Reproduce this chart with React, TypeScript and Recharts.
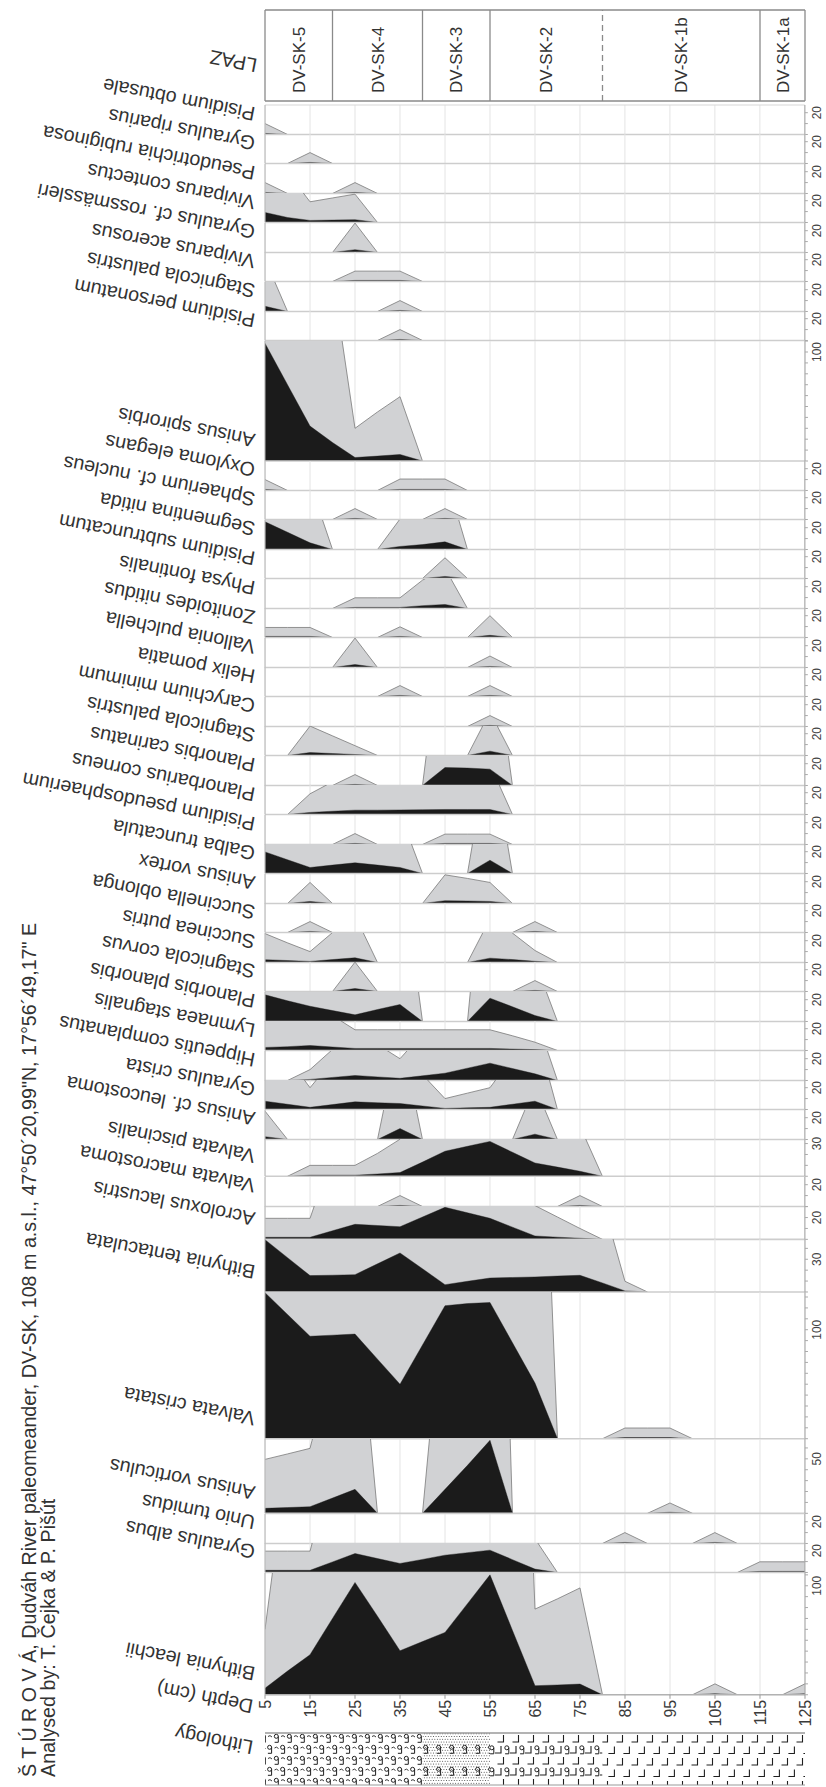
import React from 'react';
import { ComposedChart, Area, XAxis, YAxis, ReferenceLine, ReferenceArea, CartesianGrid } from 'recharts';

type Sample = [number, number, number]; // depth (cm), actual value, exaggerated value (x10)

const DEPTHS = [5, 10, 15, 20, 25, 30, 35, 40, 45, 50, 55, 60, 65, 70, 75, 80, 85, 90, 95, 100, 105, 110, 115, 120, 125];
const DEPTH_TICKS = [5, 15, 25, 35, 45, 55, 65, 75, 85, 95, 105, 115, 125];

const SPECIES = [
  'Pisidium obtusale', 'Gyraulus riparius', 'Pseudotrichia rubiginosa', 'Viviparus contectus',
  'Gyraulus cf. rossmässleri', 'Viviparus acerosus', 'Stagnicola palustris', 'Pisidium personatum',
  'Anisus spirorbis', 'Oxyloma elegans', 'Sphaerium cf. nucleus', 'Segmentina nitida',
  'Pisidium subtruncatum', 'Physa fontinalis', 'Zonitoides nitidus', 'Vallonia pulchella',
  'Helix pomatia', 'Carychium minimum', 'Stagnicola palustris', 'Planorbis carinatus',
  'Planorbarius corneus', 'Pisidium pseudosphaerium', 'Galba truncatula', 'Anisus vortex',
  'Succinella oblonga', 'Succinea putris', 'Stagnicola corvus', 'Planorbis planorbis',
  'Lymnaea stagnalis', 'Hippeutis complanatus', 'Gyraulus crista', 'Anisus cf. leucostoma',
  'Valvata piscinalis', 'Valvata macrostoma', 'Acroloxus lacustris', 'Bithynia tentaculata',
  'Valvata cristata', 'Anisus vorticulus', 'Unio tumidus', 'Gyraulus albus', 'Bithynia leachii',
];

const SCALE_LABEL = [
  20, 20, 20, 20, 20, 20, 20, 20, 100, 20, 20, 20, 20, 20, 20, 20, 20, 20, 20, 20, 20,
  20, 20, 20, 20, 20, 20, 20, 20, 20, 20, 20, 30, 20, 20, 30, 100, 50, 20, 20, 100,
];

const SCALE_MAX = [
  27.06, 27.06, 27.06, 27.06, 27.06, 27.06, 27.06, 27.06, 110.1, 27.06, 27.06, 27.06, 27.06,
  27.06, 27.06, 27.06, 27.06, 27.06, 27.06, 27.06, 27.06, 27.06, 27.06, 27.06, 27.06, 27.06,
  27.06, 27.06, 27.06, 27.06, 27.06, 27.06, 34.2, 27.06, 30.6, 48.6, 134.6, 68.2, 27.06, 27.06, 111.7,
];

const pisidiumObtusale: Sample[] = [[5, 1, 10]];
const gyraulusRiparius: Sample[] = [[15, 1, 10]];
const pseudotrichiaRubiginosa: Sample[] = [[5, 1, 10], [25, 1, 10]];
const viviparusContectus: Sample[] = [[5, 9.2, 92], [10, 4.6, 46], [15, 1.9, 19], [20, 2.2, 22.5], [25, 2.6, 26]];
const gyraulusRossmaessleri: Sample[] = [[25, 2.6, 27]];
const viviparusAcerosus: Sample[] = [[25, 1, 9.5], [30, 1, 9.5], [35, 1, 9.5]];
const stagnicolaPalustrisA: Sample[] = [[5, 4.8, 48], [35, 1, 10]];
const pisidiumPersonatum: Sample[] = [[35, 1, 10]];
const anisusSpirorbis: Sample[] = [[5, 108, 1080], [10, 70, 700], [15, 32, 320], [20, 17, 170], [25, 3.2, 30], [30, 4.5, 45], [35, 6, 59]];
const oxylomaElegans: Sample[] = [[5, 1, 10], [35, 1, 10.5], [40, 1, 10.5], [45, 1, 10.5]];
const sphaeriumNucleus: Sample[] = [[25, 1, 10], [45, 1, 10]];
const segmentinaNitida: Sample[] = [[5, 25.4, 254], [10, 15.8, 158], [15, 6.1, 61], [35, 2.8, 28], [40, 4.5, 45], [45, 7, 70]];
const pisidiumSubtruncatum: Sample[] = [[45, 1.9, 19]];
const physaFontinalis: Sample[] = [[25, 1, 9.8], [30, 1, 9.8], [35, 1, 9.8], [40, 2.6, 26], [45, 3.7, 37]];
const zonitoidesNitidus: Sample[] = [[5, 1, 9.2], [10, 1, 9.2], [15, 1, 9.2], [35, 1, 9.8], [55, 2, 20]];
const valloniaPulchella: Sample[] = [[25, 2.7, 27], [55, 1, 10.5]];
const helixPomatia: Sample[] = [[35, 1, 10], [55, 1, 10]];
const carychiumMinimum: Sample[] = [[55, 1, 10]];
const stagnicolaPalustrisB: Sample[] = [[15, 2.7, 27], [20, 1.8, 18], [25, 0.9, 9], [55, 4, 40]];
const planorbisCarinatus: Sample[] = [[25, 1, 10], [45, 16.5, 165], [50, 16, 160], [55, 15, 150]];
const planorbariusCorneus: Sample[] = [[15, 1.9, 19], [20, 3, 30], [25, 4, 40], [30, 4, 40], [35, 4.2, 42], [40, 4.4, 44], [45, 4.6, 46], [50, 4.6, 46], [55, 4.6, 46]];
const pisidiumPseudosphaerium: Sample[] = [[25, 1, 10], [45, 1, 9.5], [50, 1, 9.5], [55, 1, 9.5]];
const galbaTruncatula: Sample[] = [[5, 19.8, 198], [10, 12.6, 126], [15, 5.5, 55], [20, 7.7, 77], [25, 9.8, 98], [30, 7.7, 77], [35, 5.5, 55], [55, 12.2, 122]];
const anisusVortex: Sample[] = [[15, 1.9, 19.3], [45, 2.6, 26.3], [50, 2.3, 23], [55, 1.9, 19.3]];
const succinellaOblonga: Sample[] = [[15, 1, 10], [65, 1, 10]];
const succineaPutris: Sample[] = [[5, 2.6, 26.5], [10, 1.8, 18], [15, 1, 10], [20, 2.7, 27.5], [25, 4.3, 43], [55, 4, 40], [60, 2.7, 27], [65, 1.1, 11]];
const stagnicolaCorvus: Sample[] = [[25, 2.7, 27], [65, 1, 10]];
const planorbisPlanorbis: Sample[] = [[5, 24.5, 245], [10, 19, 190], [15, 14, 140], [20, 10, 100], [25, 6.1, 61], [30, 11, 110], [35, 15.6, 156], [55, 21.4, 214], [60, 13.5, 135], [65, 5.5, 55]];
const lymnaeaStagnalis: Sample[] = [[5, 2.8, 28], [10, 3.5, 35], [15, 4.6, 46], [20, 3.2, 32], [25, 1.9, 19], [30, 1.9, 19], [35, 1.9, 19], [40, 1.9, 19], [45, 1.9, 19], [50, 1.9, 19], [55, 1.9, 19], [60, 1.3, 13.5], [65, 0.8, 7.6]];
const hippeutisComplanatus: Sample[] = [[15, 1, 10], [20, 2.8, 28.5], [25, 4.6, 46], [30, 3.3, 33], [35, 2, 20], [40, 4.3, 43], [45, 6.7, 67], [50, 11.3, 113], [55, 15.9, 159], [60, 11, 110], [65, 6.1, 61]];
const gyraulusCrista: Sample[] = [[5, 7.6, 76], [10, 4.8, 48], [15, 2, 20], [20, 4.5, 45], [25, 7, 70], [30, 6.2, 62], [35, 5.5, 55], [40, 3.2, 32], [45, 1, 10], [50, 1.5, 15], [55, 2, 20], [60, 4.8, 48], [65, 7.6, 76]];
const anisusLeucostoma: Sample[] = [[5, 2.6, 26], [35, 10, 100], [65, 4.9, 49]];
const valvataPiscinalis: Sample[] = [[15, 1, 10], [20, 1, 10], [25, 1, 10], [30, 2.1, 21], [35, 3.4, 34], [40, 13, 130], [45, 23, 230], [50, 27.5, 275], [55, 32, 320], [60, 22, 220], [65, 12.2, 122], [70, 8.4, 84], [75, 4.6, 46]];
const valvataMacrostoma: Sample[] = [[35, 1, 10], [75, 1, 10]];
const acroloxusLacustris: Sample[] = [[5, 1.9, 19.3], [10, 1.9, 19.3], [15, 1.9, 19.3], [20, 7.9, 79], [25, 13.8, 138], [30, 12.7, 127], [35, 11.6, 116], [40, 20.5, 205], [45, 29.4, 294], [50, 24.4, 244], [55, 19.3, 193], [60, 11.2, 112], [65, 3.1, 31], [70, 2, 20.5], [75, 1, 10]];
const bithyniaTentaculata: Sample[] = [[5, 48, 480], [10, 31.5, 315], [15, 15, 150], [20, 15.4, 154], [25, 15.9, 159], [30, 25.8, 258], [35, 35.8, 358], [40, 21.3, 213], [45, 6.7, 67], [50, 9.8, 98], [55, 12.8, 128], [60, 13.3, 133], [65, 13.8, 138], [70, 14.6, 146], [75, 15.3, 153], [80, 8.3, 83], [85, 1, 9.8]];
const valvataCristata: Sample[] = [[5, 134, 1340], [10, 114, 1140], [15, 94, 940], [20, 95, 950], [25, 96, 960], [30, 73, 730], [35, 50, 500], [40, 86, 860], [45, 122, 1220], [50, 124, 1240], [55, 125, 1250], [60, 88, 880], [65, 51, 510], [85, 1, 9.8], [90, 1, 9.8], [95, 1, 9.8]];
const anisusVorticulus: Sample[] = [[5, 4.6, 49.5], [10, 5.3, 54.5], [15, 6.1, 59.6], [20, 14, 140], [25, 22, 220], [45, 22, 220], [50, 44, 440], [55, 67, 670], [95, 1, 9.5]];
const unioTumidus: Sample[] = [[85, 1, 10], [105, 1, 10]];
const gyraulusAlbus: Sample[] = [[5, 2, 19.6], [10, 2, 19.6], [15, 2, 19.6], [20, 9.7, 97], [25, 17.4, 174], [30, 12.8, 128], [35, 8.3, 83], [40, 12, 120], [45, 15.9, 159], [50, 18.2, 182], [55, 20.5, 205], [60, 11.8, 118], [65, 3.1, 31], [115, 1, 9.8], [120, 1, 9.8], [125, 1, 9.8]];
const bithyniaLeachii: Sample[] = [[5, 6, 60], [10, 21.7, 217], [15, 36.7, 367], [20, 70, 700], [25, 103, 1030], [30, 72, 720], [35, 40.4, 404], [40, 48.8, 488], [45, 57.2, 572], [50, 83.6, 836], [55, 110, 1100], [60, 59, 590], [65, 8.3, 78.6], [70, 9, 88], [75, 9.8, 98], [105, 1, 10], [125, 1, 10]];

const SAMPLES: Sample[][] = [
  pisidiumObtusale, gyraulusRiparius, pseudotrichiaRubiginosa, viviparusContectus,
  gyraulusRossmaessleri, viviparusAcerosus, stagnicolaPalustrisA, pisidiumPersonatum,
  anisusSpirorbis, oxylomaElegans, sphaeriumNucleus, segmentinaNitida,
  pisidiumSubtruncatum, physaFontinalis, zonitoidesNitidus, valloniaPulchella,
  helixPomatia, carychiumMinimum, stagnicolaPalustrisB, planorbisCarinatus,
  planorbariusCorneus, pisidiumPseudosphaerium, galbaTruncatula, anisusVortex,
  succinellaOblonga, succineaPutris, stagnicolaCorvus, planorbisPlanorbis,
  lymnaeaStagnalis, hippeutisComplanatus, gyraulusCrista, anisusLeucostoma,
  valvataPiscinalis, valvataMacrostoma, acroloxusLacustris, bithyniaTentaculata,
  valvataCristata, anisusVorticulus, unioTumidus, gyraulusAlbus, bithyniaLeachii,
];

const ZONE_NAMES = ['DV-SK-5', 'DV-SK-4', 'DV-SK-3', 'DV-SK-2', 'DV-SK-1b', 'DV-SK-1a'];
const ZONE_FROM = [5, 20, 40, 55, 80, 115];
const ZONE_TO = [20, 40, 55, 80, 115, 125];
const ZONE_DASHED = [false, false, false, false, true, false];

const LITH_FROM = [5, 40, 55, 80];
const LITH_TO = [40, 55, 80, 125];
const LITH_PATTERN = ['lithPeat', 'lithSand', 'lithMix', 'lithClay'];

const TITLE_1 = 'Š T Ú R O V Á,  Dudváh River paleomeander, DV-SK, 108 m a.s.l., 47°50´20,99"N, 17°56´49,17" E';
const TITLE_2 = 'Analysed by: T. Čejka & P. Pišút';

// ---------- layout ----------
const W = 826;
const K = 1.09; // px per unit
const TOP0 = 105;
const PLOT_LEFT = 265;
const RIGHT_AXIS = 21;
const FONT = '"Liberation Sans", Arial, Helvetica, sans-serif';
const GRAY_FILL = '#d1d2d4';
const GRAY_STROKE = '#7a7a7a';
const BLACK = '#1b1b1b';
const TEXT = '#333333';

function buildRowData(samples: Sample[]) {
  const m = new Map<number, Sample>();
  samples.forEach((s) => m.set(s[0], s));
  const blk = DEPTHS.map((d) => (m.get(d) ? m.get(d)![1] : 0));
  const gry = DEPTHS.map((d) => (m.get(d) ? m.get(d)![2] : 0));
  const keep = (a: number[], i: number) => a[i] > 0 || (i > 0 && a[i - 1] > 0) || (i < a.length - 1 && a[i + 1] > 0);
  const out: { depth: number; black: number | null; gray: number | null }[] = [];
  DEPTHS.forEach((d, i) => {
    out.push({ depth: d, black: keep(blk, i) ? blk[i] : null, gray: keep(gry, i) ? gry[i] : null });
    if (i < DEPTHS.length - 1 && gry[i] === 0 && gry[i + 1] === 0 && blk[i] === 0 && blk[i + 1] === 0) {
      out.push({ depth: (d + DEPTHS[i + 1]) / 2, black: null, gray: null });
    }
  });
  return out;
}

const RightTick = (props: any) => {
  const { x, y, payload, label } = props;
  if (payload.value !== label) return <g />;
  const bx = x + 11;
  return (
    <text x={bx} y={y} transform={`rotate(-90 ${bx} ${y})`} textAnchor="middle" fontSize={12} fill="#444" fontFamily={FONT}>
      {label}
    </text>
  );
};

const DepthTick = (props: any) => {
  const { x, y, payload } = props;
  const tx = x + 5.6;
  const ty = y - 1;
  return (
    <text x={tx} y={ty} transform={`rotate(-90 ${tx} ${ty})`} textAnchor="end" fontSize={16} fill="#3a3a3a" fontFamily={FONT}>
      {payload.value}
    </text>
  );
};

const ZoneLabel = (props: any) => {
  const { viewBox, text } = props;
  const cx = viewBox.x + viewBox.width / 2 + 6;
  const by = viewBox.y + viewBox.height - 8;
  return (
    <text x={cx} y={by} transform={`rotate(-90 ${cx} ${by})`} fontSize={17} fill={TEXT} fontFamily={FONT}>
      {text}
    </text>
  );
};

function SpeciesRow({ index, top }: { index: number; top: number }) {
  const max = SCALE_MAX[index];
  const h = max * K;
  const isLast = index === SPECIES.length - 1;
  const axisH = isLast ? 36 : 0;
  const data = buildRowData(SAMPLES[index]);
  const ticks: number[] = [];
  for (let t = 0; t <= max + 1e-9; t += 10) ticks.push(t);
  return (
    <div style={{ position: 'absolute', left: 0, top, width: W, height: h + axisH }}>
      <ComposedChart width={W} height={h + axisH} data={data} margin={{ top: 0, right: 0, bottom: 0, left: PLOT_LEFT - 10 }}>
        <CartesianGrid yAxisId="r" horizontal={false} vertical stroke="#e4e4e4" />
        <XAxis
          type="number"
          dataKey="depth"
          domain={[5, 125]}
          ticks={DEPTH_TICKS}
          interval={0}
          hide={!isLast}
          height={axisH || 1}
          tick={<DepthTick />}
          tickSize={4}
          tickLine={{ stroke: '#999' }}
          axisLine={{ stroke: '#aaa' }}
          allowDataOverflow
        />
        <YAxis
          yAxisId="l"
          orientation="left"
          width={10}
          domain={[0, max]}
          ticks={ticks}
          interval={0}
          tick={false}
          tickSize={3}
          tickLine={{ stroke: '#aaa' }}
          axisLine={{ stroke: '#b5b5b5' }}
          allowDataOverflow
        />
        <YAxis
          yAxisId="r"
          orientation="right"
          width={RIGHT_AXIS}
          domain={[0, max]}
          ticks={ticks}
          interval={0}
          tick={<RightTick label={SCALE_LABEL[index]} />}
          tickSize={3}
          tickLine={{ stroke: '#aaa' }}
          axisLine={{ stroke: '#a5a5a5' }}
          allowDataOverflow
        />
        <Area
          yAxisId="r"
          type="linear"
          dataKey="gray"
          fill={GRAY_FILL}
          fillOpacity={1}
          stroke={GRAY_STROKE}
          strokeWidth={0.8}
          connectNulls={false}
          dot={false}
          activeDot={false}
          isAnimationActive={false}
        />
        <Area
          yAxisId="r"
          type="linear"
          dataKey="black"
          fill={BLACK}
          fillOpacity={1}
          stroke={BLACK}
          strokeWidth={0.4}
          connectNulls={false}
          dot={false}
          activeDot={false}
          isAnimationActive={false}
        />
        <ReferenceLine yAxisId="r" y={0} stroke="#cdcdcd" strokeWidth={1.6} />
        {index === 0 && <ReferenceLine yAxisId="r" y={max} stroke="#d8d8d8" strokeWidth={1.2} />}
      </ComposedChart>
    </div>
  );
}

function LpazChart() {
  const data = ZONE_FROM.map((d) => ({ x: d }));
  return (
    <div style={{ position: 'absolute', left: 0, top: 10, width: W, height: 91 }}>
      <ComposedChart width={W} height={91} data={data} margin={{ top: 0, right: RIGHT_AXIS, bottom: 0, left: PLOT_LEFT }}>
        <XAxis type="number" dataKey="x" domain={[5, 125]} hide allowDataOverflow />
        <YAxis type="number" domain={[0, 1]} hide allowDataOverflow />
        {ZONE_NAMES.map((name, i) => (
          <ReferenceArea
            key={name}
            x1={ZONE_FROM[i]}
            x2={ZONE_TO[i]}
            y1={0}
            y2={1}
            fill="none"
            fillOpacity={0}
            stroke="none"
            ifOverflow="visible"
            label={<ZoneLabel text={name} />}
          />
        ))}
        <ReferenceLine y={0} stroke="#8a8a8a" strokeWidth={1.3} />
        <ReferenceLine y={1} stroke="#8a8a8a" strokeWidth={1.3} />
        <ReferenceLine x={5} stroke="#8a8a8a" strokeWidth={1.3} />
        <ReferenceLine x={125} stroke="#8a8a8a" strokeWidth={1.3} />
        {ZONE_FROM.slice(1).map((d, i) => (
          <ReferenceLine key={d} x={d} stroke="#8a8a8a" strokeWidth={1.3} strokeDasharray={ZONE_DASHED[i + 1] ? '6 4' : undefined} />
        ))}
      </ComposedChart>
    </div>
  );
}

function LithologyChart() {
  const data = LITH_FROM.map((d) => ({ x: d }));
  return (
    <div style={{ position: 'absolute', left: 0, top: 1733, width: W, height: 52 }}>
      <ComposedChart width={W} height={52} data={data} margin={{ top: 0, right: RIGHT_AXIS, bottom: 0, left: PLOT_LEFT }}>
        <XAxis type="number" dataKey="x" domain={[5, 125]} hide allowDataOverflow />
        <YAxis type="number" domain={[0, 1]} hide allowDataOverflow />
        {LITH_FROM.map((d, i) => (
          <ReferenceArea key={d} x1={d} x2={LITH_TO[i]} y1={0} y2={1} fill={`url(#${LITH_PATTERN[i]})`} fillOpacity={1} stroke="none" />
        ))}
        <ReferenceLine y={1} stroke="#9a9a9a" strokeWidth={1.5} />
        <ReferenceLine y={0} stroke="#9a9a9a" strokeWidth={1.2} />
      </ComposedChart>
    </div>
  );
}

const INK = '#1f1f1f';
const curl = (x: number, y: number, k: string) => (
  <g key={k} fill="none" stroke={INK} strokeWidth={1}>
    <circle cx={x + 2.3} cy={y + 2.3} r={2} />
    <path d={`M${x + 4.3},${y + 2.3} V${y + 8.3} H${x + 0.6}`} />
  </g>
);
const ell = (x: number, y: number, k: string) => (
  <path key={k} d={`M${x},${y} V${y + 7} H${x - 6}`} fill="none" stroke={INK} strokeWidth={1.1} />
);

function Patterns() {
  const dots: JSX.Element[] = [];
  for (let yy = 0; yy < 22; yy += 2.75) {
    for (let xx = 0; xx < 13; xx += 2.6) {
      dots.push(<circle key={`${xx}-${yy}`} cx={xx + ((yy / 2.75) % 2) * 1.3 + 0.6} cy={yy + 0.8} r={0.55} fill="#444" />);
    }
  }
  return (
    <svg width={0} height={0} style={{ position: 'absolute' }}>
      <defs>
        <pattern id="lithPeat" patternUnits="userSpaceOnUse" width={13} height={22}>
          <rect width={13} height={22} fill="#fff" />
          {curl(1, 1, 'a')}
          {curl(7.3, 12, 'b')}
          <path d="M8,3.5 q2,-2 4,0.5" fill="none" stroke={INK} strokeWidth={0.9} />
          <path d="M1.5,15 q2,-2 4,0.5" fill="none" stroke={INK} strokeWidth={0.9} />
        </pattern>
        <pattern id="lithSand" patternUnits="userSpaceOnUse" width={13} height={22}>
          <rect width={13} height={22} fill="#fff" />
          {dots}
          {curl(7.3, 12, 'c')}
        </pattern>
        <pattern id="lithMix" patternUnits="userSpaceOnUse" width={15} height={22}>
          <rect width={15} height={22} fill="#fff" />
          {ell(8.5, 2, 'd')}
          {curl(9.5, 12.5, 'e')}
          {ell(6, 13, 'f')}
        </pattern>
        <pattern id="lithClay" patternUnits="userSpaceOnUse" width={15} height={23}>
          <rect width={15} height={23} fill="#fff" />
          {ell(7.5, 2, 'g')}
          {ell(14.4, 13.5, 'h')}
        </pattern>
      </defs>
    </svg>
  );
}

export default function App() {
  const tops: number[] = [];
  let acc = TOP0;
  SCALE_MAX.forEach((m) => {
    tops.push(acc);
    acc += m * K;
  });
  const bottoms = tops.map((t, i) => t + SCALE_MAX[i] * K);
  const labelRot = 191;
  const upside = (text: string, x: number, y: number, key: string) => (
    <text key={key} x={x} y={y} transform={`rotate(${labelRot} ${x} ${y})`} fontSize={19.7} fill={TEXT} fontFamily={FONT}>
      {text}
    </text>
  );
  return (
    <div style={{ position: 'absolute', left: 0, top: 0, width: W, height: 1787, background: '#fff', overflow: 'hidden', fontFamily: FONT }}>
      <style>{'.recharts-surface{overflow:visible}'}</style>
      <Patterns />
      <LpazChart />
      {SPECIES.map((_, i) => (
        <SpeciesRow key={i} index={i} top={tops[i]} />
      ))}
      <LithologyChart />
      <svg width={W} height={1787} style={{ position: 'absolute', left: 0, top: 0, pointerEvents: 'none' }}>
        {SPECIES.map((name, i) => upside(name, 256, bottoms[i] - 27, `s${i}`))}
        {upside('LPAZ', 258, 59, 'lpaz')}
        {upside('Depth (cm)', 254, 1700, 'depth')}
        {upside('Lithology', 254, 1741, 'lith')}
        <text x={36} y={1777} transform="rotate(-90 36 1777)" fontSize={19.7} fill={TEXT} fontFamily={FONT}>
          {TITLE_1}
        </text>
        <text x={55} y={1777} transform="rotate(-90 55 1777)" fontSize={19.7} fill={TEXT} fontFamily={FONT}>
          {TITLE_2}
        </text>
      </svg>
    </div>
  );
}
